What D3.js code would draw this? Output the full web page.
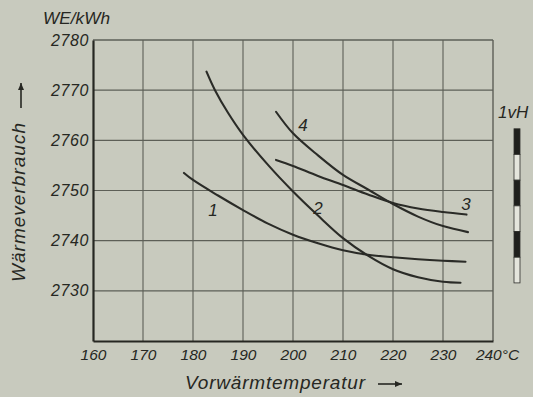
<!DOCTYPE html>
<html>
<head>
<meta charset="utf-8">
<script src="https://cdn.jsdelivr.net/npm/d3@7"></script>
<style>
html,body{margin:0;padding:0;background:#c8cabe;}
svg{display:block;}
text{font-family:"Liberation Sans",Arial,sans-serif;font-style:italic;fill:#262722;}
</style>
</head>
<body>
<svg id="chart" width="533" height="397"></svg>
<script>
// ---- data ----
const xTicks = [160,170,180,190,200,210,220,230,240];
const yTicks = [2730,2740,2750,2760,2770,2780];
const curveLabels = ["1","2","3","4"];
const curve1 = [[178.2,2753.5],[180,2752.1],[185,2749.0],[190,2746.1],[195,2743.4],[200,2741.2],[205,2739.5],[210,2738.1],[215,2737.2],[220,2736.7],[225,2736.3],[230,2736.0],[234.5,2735.8]];
const curve2 = [[182.7,2773.7],[184.4,2770.0],[187,2765.5],[190,2761.1],[195,2755.1],[200,2749.8],[205,2745.0],[210,2740.5],[215,2737.0],[220,2734.3],[225,2732.7],[230,2731.8],[233.5,2731.6]];
const curve3 = [[196.6,2756.1],[200,2754.9],[205,2752.9],[210,2751.1],[215,2749.2],[220,2747.5],[225,2746.4],[230,2745.7],[234.7,2745.2]];
const curve4 = [[196.6,2765.7],[200,2761.4],[205,2757.0],[210,2753.1],[215,2750.2],[220,2747.3],[225,2744.8],[230,2742.9],[235,2741.7]];
const labelPos = [[184,2745.0],[205,2745.4],[234.6,2746.1],[202,2761.9]]; // label baseline anchor (data units)
// scale bar "1 v H": 6 alternating segments
const barTop = 2762.3, barSeg = 5.12, barCount = 6;

// ---- layout ----
const svg = d3.select("#chart");
const x = d3.scaleLinear().domain([160,240]).range([93,493]);
const y = d3.scaleLinear().domain([2720,2780]).range([341,40]);
const ink = "#262722", grid = "#5d5f57";

// grid
svg.append("g").selectAll("line").data(xTicks.slice(1,-1)).join("line")
  .attr("x1",d=>x(d)).attr("x2",d=>x(d)).attr("y1",y(2780)).attr("y2",y(2720))
  .attr("stroke",grid).attr("stroke-width",1.1);
svg.append("g").selectAll("line").data(yTicks.slice(0,-1)).join("line")
  .attr("x1",x(160)).attr("x2",x(240)).attr("y1",d=>y(d)).attr("y2",d=>y(d))
  .attr("stroke",grid).attr("stroke-width",1.1);
// frame
svg.append("line").attr("x1",x(160)).attr("x2",x(240)).attr("y1",y(2780)).attr("y2",y(2780)).attr("stroke",grid).attr("stroke-width",1.4);
svg.append("line").attr("x1",x(240)).attr("x2",x(240)).attr("y1",y(2780)).attr("y2",y(2720)).attr("stroke",grid).attr("stroke-width",1.4);

// axes
const xAxis = svg.append("g").attr("transform",`translate(0,${y(2720)})`)
  .call(d3.axisBottom(x).tickValues(xTicks).tickSize(0).tickPadding(8)
    .tickFormat(d=> d===240 ? "240°C" : d));
xAxis.select(".domain").attr("stroke",ink).attr("stroke-width",2.2);
xAxis.selectAll("text").attr("font-size",15.5).attr("fill",ink).style("font-family",null)
  .attr("dx",d=> d===240 ? 4 : 0);
const yAxis = svg.append("g").attr("transform",`translate(${x(160)},0)`)
  .call(d3.axisLeft(y).tickValues(yTicks).tickSize(0).tickPadding(4).tickFormat(d3.format("d")));
yAxis.select(".domain").attr("stroke",ink).attr("stroke-width",2.2);
yAxis.selectAll("text").attr("font-size",16).attr("fill",ink).attr("letter-spacing",0.6).style("font-family",null);

// curves
const line = d3.line().x(d=>x(d[0])).y(d=>y(d[1])).curve(d3.curveCatmullRom.alpha(0.5));
const curves = [curve1,curve2,curve3,curve4];
svg.append("g").selectAll("path").data(curves).join("path")
  .attr("d",line).attr("fill","none").attr("stroke","#2a2b27").attr("stroke-width",2.1).attr("stroke-linecap","round");
svg.append("g").selectAll("text").data(curveLabels).join("text")
  .attr("x",(d,i)=>x(labelPos[i][0])).attr("y",(d,i)=>y(labelPos[i][1]))
  .attr("text-anchor","middle").attr("font-size",17).text(d=>d);

// titles
svg.append("text").attr("x",43).attr("y",24).attr("font-size",17).attr("textLength",67).attr("lengthAdjust","spacingAndGlyphs").text("WE/kWh");
svg.append("text").attr("transform","translate(25,282) rotate(-90)")
  .attr("font-size",19).attr("textLength",159).attr("lengthAdjust","spacing").text("Wärmeverbrauch");
svg.append("text").attr("x",185).attr("y",389).attr("font-size",19)
  .attr("textLength",180).attr("lengthAdjust","spacing").text("Vorwärmtemperatur");
// arrows
function arrow(x1,y1,x2,y2){
  const g = svg.append("g");
  g.append("line").attr("x1",x1).attr("y1",y1).attr("x2",x2).attr("y2",y2).attr("stroke",ink).attr("stroke-width",1.6);
  const a = Math.atan2(y2-y1,x2-x1), L=7, W=3;
  const p = [[x2,y2],[x2-L*Math.cos(a)+W*Math.sin(a), y2-L*Math.sin(a)-W*Math.cos(a)],[x2-L*Math.cos(a)-W*Math.sin(a), y2-L*Math.sin(a)+W*Math.cos(a)]];
  g.append("path").attr("d","M"+p.join("L")+"Z").attr("fill",ink);
}
arrow(378,384,402,384);
arrow(21,108,21,83);

// scale bar
svg.append("text").attr("x",498).attr("y",118).attr("font-size",17).text("1vH");
const segs = d3.range(barCount);
svg.append("g").selectAll("rect").data(segs).join("rect")
  .attr("x",514).attr("width",6)
  .attr("y",i=>y(barTop - i*barSeg)).attr("height",i=>y(barTop-(i+1)*barSeg)-y(barTop-i*barSeg))
  .attr("fill",i=> i%2===0 ? "#1e1f1c" : "#e4e5dc").attr("stroke","#2e2f2b").attr("stroke-width",0.8);
</script>
</body>
</html>
